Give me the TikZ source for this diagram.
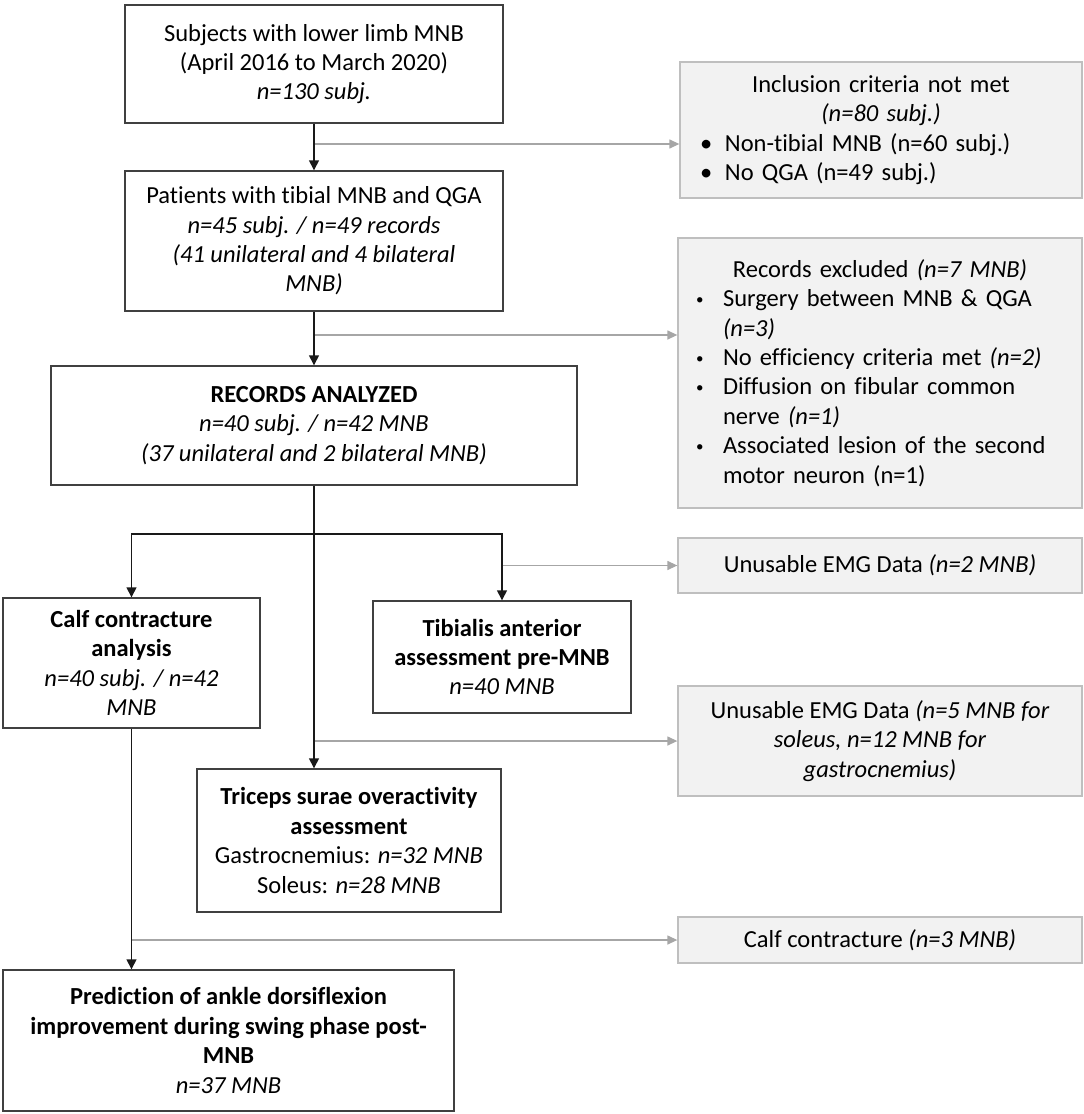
\documentclass[tikz,border=0pt]{standalone}
\usepackage{fontspec}
\setmainfont{Carlito}[Ligatures=NoCommon]
\usepackage{tikz}
\usetikzlibrary{arrows.meta}

\newcommand{\bigbul}{\makebox[25pt][l]{\textbullet}}
\newcommand{\smallbul}{\makebox[27pt][l]{\raisebox{2pt}{\fontsize{15}{15}\selectfont\textbullet}}}

\begin{document}
\begin{tikzpicture}[x=1pt, y=-1pt,
        font=\fontsize{24.5}{29.4}\selectfont,
        box/.style={draw=black!75, line width=1.4pt, align=center, inner sep=0pt},
        exbox/.style={draw=black!25, fill=black!5, line width=1.3pt, align=center, inner sep=0pt},
        listbox/.style={exbox, align=left, inner ysep=0pt},
        arr/.style={black!90, line width=1.4pt, -{Triangle[length=10pt, width=10pt]}},
        exarr/.style={black!35, line width=1.3pt, -{Triangle[length=10pt, width=9pt]}}]
        \useasboundingbox (0,0) rectangle (1084,1114);

        \node[box, minimum width=378pt, minimum height=118pt] (subj) at (314,64) {Subjects with lower limb MNB\\(April 2016 to March 2020)\\\textit{n=130 subj.}};
        \node[listbox, minimum width=402pt, minimum height=136pt, text width=362pt, inner xsep=20pt] (incl) at (881,130) {\makebox[\hsize]{Inclusion criteria not met}\\\makebox[\hsize]{\textit{(n=80 subj.)}}\\\bigbul Non-tibial MNB (n=60 subj.)\\\bigbul No QGA (n=49 subj.)};
        \node[box, minimum width=378pt, minimum height=140pt] (pat) at (314,241) {Patients with tibial MNB and QGA\\\textit{n=45 subj. / n=49 records}\\\textit{(41 unilateral and 4 bilateral}\\\textit{MNB)}};
        \node[listbox, minimum width=404pt, minimum height=270pt, text width=368pt, inner xsep=18pt] (excl) at (880,373) {\makebox[\hsize]{Records excluded \textit{(n=7 MNB)}}\\\smallbul Surgery between MNB \& QGA\\\hspace*{27pt}\textit{(n=3)}\\\smallbul No efficiency criteria met \textit{(n=2)}\\\smallbul Diffusion on fibular common\\\hspace*{27pt}nerve \textit{(n=1)}\\\smallbul Associated lesion of the second\\\hspace*{27pt}motor neuron (n=1)};
        \node[box, minimum width=526pt, minimum height=119pt] (recs) at (314,425.5) {\textbf{RECORDS ANALYZED}\\\textit{n=40 subj. / n=42 MNB}\\\textit{(37 unilateral and 2 bilateral MNB)}};
        \node[exbox, minimum width=404pt, minimum height=55pt] (emg1) at (880,565.5) {Unusable EMG Data \textit{(n=2 MNB)}};
        \node[box, minimum width=257pt, minimum height=130pt] (calf) at (131.5,663) {\textbf{Calf contracture}\\\textbf{analysis}\\\textit{n=40 subj. / n=42}\\\textit{MNB}};
        \node[box, minimum width=258pt, minimum height=112pt] (tib) at (502,657) {\textbf{Tibialis anterior}\\\textbf{assessment pre-MNB}\\\textit{n=40 MNB}};
        \node[exbox, minimum width=404pt, minimum height=110pt] (emg2) at (880,741) {Unusable EMG Data \textit{(n=5 MNB for}\\\textit{soleus, n=12 MNB for}\\\textit{gastrocnemius)}};
        \node[box, minimum width=304pt, minimum height=143pt] (tric) at (349,840.5) {\textbf{Triceps surae overactivity}\\\textbf{assessment}\\Gastrocnemius: \textit{n=32 MNB}\\Soleus: \textit{n=28 MNB}};
        \node[exbox, minimum width=404pt, minimum height=46pt] (cc) at (880,940) {Calf contracture \textit{(n=3 MNB)}};
        \node[box, minimum width=451pt, minimum height=141pt] (pred) at (228.5,1040.5) {\textbf{Prediction of ankle dorsiflexion}\\\textbf{improvement during swing phase post-}\\\textbf{MNB}\\\textit{n=37 MNB}};

        \coordinate (j1) at (314,144);
        \coordinate (j2) at (314,335);
        \coordinate (split) at (314,534);

        \draw[exarr] (j1) -- (j1 -| incl.west);
        \draw[exarr] (j2) -- (j2 -| excl.west);
        \draw[exarr] (tib.north |- emg1.west) -- (emg1.west);
        \draw[exarr] (recs.south |- emg2.west) -- (emg2.west);
        \draw[exarr] (calf.south |- cc.west) -- (cc.west);

        \draw[arr] (subj) -- (pat);
        \draw[arr] (pat) -- (recs);
        \draw[arr] (recs.south) -- (recs.south |- tric.north);
        \draw[arr] (split) -| (calf.north);
        \draw[arr] (split) -| (tib.north);
        \draw[arr] (calf.south) -- (calf.south |- pred.north);
\end{tikzpicture}
\end{document}
